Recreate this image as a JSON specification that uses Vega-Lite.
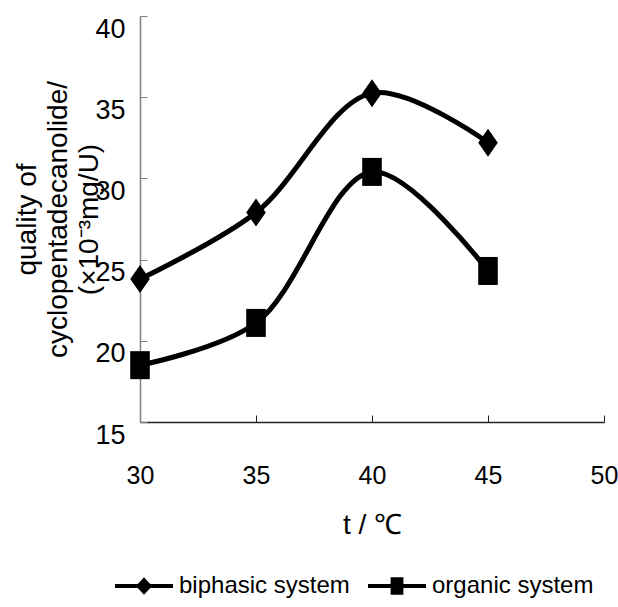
{
  "$schema": "https://vega.github.io/schema/vega-lite/v6.json",
  "autosize": "none",
  "width": 464,
  "height": 406,
  "padding": {"left": 140, "top": 16, "right": 14, "bottom": 185},
  "background": "white",
  "config": {"view": {"stroke": null}, "font": "Liberation Sans"},
  "data": {"values": [
    {"t": 30, "v": 23.8, "series": "biphasic system"},
    {"t": 35, "v": 27.9, "series": "biphasic system"},
    {"t": 40, "v": 35.25, "series": "biphasic system"},
    {"t": 45, "v": 32.2, "series": "biphasic system"},
    {"t": 30, "v": 18.5, "series": "organic system"},
    {"t": 35, "v": 21.1, "series": "organic system"},
    {"t": 40, "v": 30.4, "series": "organic system"},
    {"t": 45, "v": 24.3, "series": "organic system"}
  ]},
  "encoding": {
    "x": {"field": "t", "type": "quantitative",
      "scale": {"domain": [30, 50], "nice": false},
      "axis": {"values": [30, 35, 40, 45, 50], "grid": false, "domainColor": "#222", "domainWidth": 1.5,
        "tickColor": "#222", "tickSize": -7, "tickWidth": 1,
        "labelFont": "Liberation Sans", "labelFontSize": 25, "labelColor": "black",
        "labelBaseline": "alphabetic", "labelPadding": 68, "labelFlush": false,
        "title": "t / ℃", "titleFont": "Liberation Sans", "titleFontSize": 28, "titleFontWeight": "normal",
        "titleColor": "black", "titleBaseline": "alphabetic", "titleY": 111, "titleX": 232}},
    "y": {"field": "v", "type": "quantitative",
      "scale": {"domain": [15, 40], "nice": false},
      "axis": {"values": [15, 20, 25, 30, 35, 40], "grid": false, "domainColor": "#808080", "domainWidth": 1.5,
        "tickColor": "#808080", "tickSize": -7, "tickWidth": 1,
        "labelFont": "Liberation Sans", "labelFontSize": 27, "labelColor": "black",
        "labelBaseline": "alphabetic", "labelOffset": 21, "labelPadding": 22, "labelFlush": false,
        "title": ["quality of", "cyclopentadecanolide/", "(×10⁻³mg/U)"],
        "titleFont": "Liberation Sans", "titleFontSize": 28, "titleFontWeight": "normal",
        "titleColor": "black", "titleLineHeight": 31, "titleAngle": -90, "titleAlign": "center",
        "titleBaseline": "middle", "titleX": -113, "titleY": 203}}
  },
  "layer": [
    {"mark": {"type": "line", "interpolate": "catmull-rom", "color": "black", "strokeWidth": 5},
     "encoding": {"detail": {"field": "series"}}},
    {"mark": {"type": "point", "filled": true, "color": "black", "opacity": 1, "size": 784},
     "encoding": {"shape": {"field": "series", "type": "nominal",
       "scale": {"domain": ["biphasic system", "organic system"],
         "range": ["M0,-1L0.7,0L0,1L-0.7,0Z", "M-0.7,-1H0.7V1H-0.7Z"]},
       "legend": null}}},
    {"mark": {"type": "point", "filled": true, "color": "black", "opacity": 0},
     "encoding": {"shape": {"field": "series", "type": "nominal",
       "scale": {"domain": ["biphasic system", "organic system"],
         "range": ["M-1,-0.07L1,-0.07L1,0.07L-1,0.07ZM0,-0.3L0.28,0L0,0.3L-0.28,0Z", "M-1,-0.07L1,-0.07L1,0.07L-1,0.07ZM-0.22,-0.3L0.22,-0.3L0.22,0.3L-0.22,0.3Z"]},
       "legend": {"orient": "none", "legendX": -25, "legendY": 541, "direction": "horizontal", "title": null,
         "symbolSize": 3364, "symbolStrokeWidth": 0, "symbolFillColor": "black",
         "symbolOpacity": 1, "labelFont": "Liberation Sans", "labelFontSize": 24, "labelColor": "black",
         "labelOffset": 6, "columnPadding": 18, "labelLimit": 300,
         "encode": {"symbols": {"update": {
           "fill": {"value": "black"}, "opacity": {"value": 1}, "strokeWidth": {"value": 0}}}}}}}}
  ],
  "resolve": {"scale": {"shape": "independent"}, "legend": {"shape": "independent"}}
}
